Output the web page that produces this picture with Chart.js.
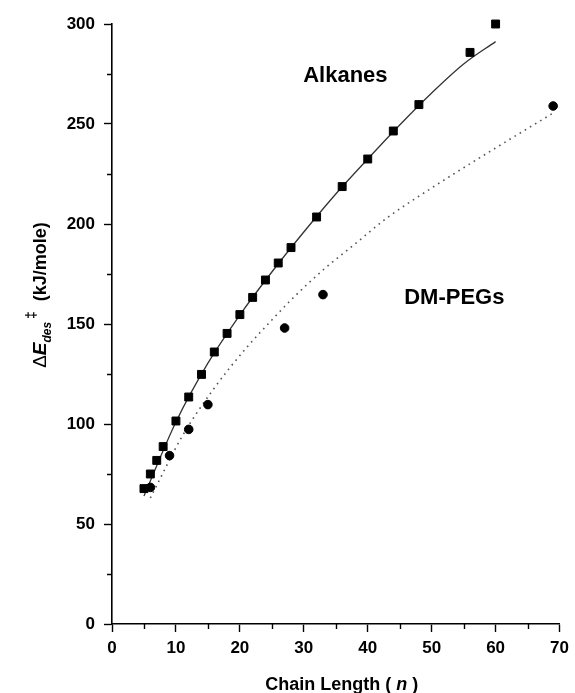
<!DOCTYPE html>
<html>
<head>
<meta charset="utf-8">
<script src="https://cdn.jsdelivr.net/npm/chart.js@4.4.0/dist/chart.umd.min.js"></script>
<style>
  html, body { margin: 0; padding: 0; background: #fff; }
  canvas { display: block; }
</style>
</head>
<body>
<canvas id="myChart" width="575" height="693"></canvas>
<script>
// values
var alkaneN = [5, 6, 7, 8, 10, 12, 14, 16, 18, 20, 22, 24, 26, 28, 32, 36, 40, 44, 48, 56, 60];
var alkaneE = [67.7, 75, 81.8, 88.7, 101.5, 113.5, 124.8, 136, 145.3, 154.7, 163.3, 172, 180.5, 188.2, 203.5, 218.7, 232.5, 246.5, 259.7, 285.8, 300];
var pegN = [6, 9, 12, 15, 27, 33, 69];
var pegE = [68.3, 84.2, 97.3, 109.7, 148, 164.7, 259];

// fit curves
var alkaneFitN = [5, 10, 15, 20, 25, 30, 35, 40, 45, 50, 55, 60];
var alkaneFitE = [64, 101, 130.4, 154.5, 176, 196, 215, 232.5, 249.5, 265.5, 280, 291.2];
var pegFitN = [6, 11, 16, 21, 25, 28, 33, 38, 43, 50, 60, 69];
var pegFitE = [63, 94, 118, 138, 152, 162, 177, 190, 203, 218, 238, 255.5];

// axis ticks
var xMajor = [0, 10, 20, 30, 40, 50, 60, 70];
var xMinor = [5, 15, 25, 35, 45, 55, 65];
var yMajor = [0, 50, 100, 150, 200, 250, 300];
var yMinor = [25, 75, 125, 175, 225, 275];

// in-plot labels (anchor in data units)
var seriesNames = ['Alkanes', 'DM-PEGs'];
var seriesLabelAt = [[29.9, 271], [45.7, 160]];

function pts(xs, ys) {
    return xs.map(function (v, i) { return { x: v, y: ys[i] }; });
}

var FONT = '"Liberation Sans", Arial, Helvetica, sans-serif';

var extras = {
    id: 'extras',
    afterDraw: function (chart) {
        var c = chart.ctx;
        var xs = chart.scales.x;
        var ys = chart.scales.y;
        c.save();

        // minor ticks
        c.strokeStyle = '#000';
        c.lineWidth = 1.4;
        c.beginPath();
        xMinor.forEach(function (v) {
            var px = Math.round(xs.getPixelForValue(v)) + 0.5;
            c.moveTo(px, ys.bottom);
            c.lineTo(px, ys.bottom + 5);
        });
        yMinor.forEach(function (v) {
            var py = Math.round(ys.getPixelForValue(v)) + 0.5;
            c.moveTo(xs.left, py);
            c.lineTo(xs.left - 5, py);
        });
        c.stroke();

        c.fillStyle = '#000';

        // series labels
        c.font = 'bold 22px ' + FONT;
        c.textAlign = 'left';
        c.textBaseline = 'alphabetic';
        seriesNames.forEach(function (name, i) {
            c.fillText(name, xs.getPixelForValue(seriesLabelAt[i][0]), ys.getPixelForValue(seriesLabelAt[i][1]));
        });

        // x title: Chain Length (n)
        var parts = [
            ['Chain Length (', 'bold 18px ' + FONT, 0],
            [' n ', 'italic bold 18px ' + FONT, 0],
            [')', 'bold 18px ' + FONT, 0]
        ];
        drawRun(c, parts, (xs.left + xs.right) / 2 + 6, 690);

        // y title: ΔE_des‡ (kJ/mole), rotated
        c.save();
        c.translate(46, 295);
        c.rotate(-Math.PI / 2);
        var yparts = [
            ['\u0394', '19px ' + FONT, 0],
            ['E', 'italic bold 19px ' + FONT, 0],
            ['des', 'italic bold 12px ' + FONT, 5],
            ['\u2009\u2021', 'bold 14px ' + FONT, -10],
            ['  (kJ/mole)', 'bold 18px ' + FONT, 0]
        ];
        drawRun(c, yparts, 0, 0);
        c.restore();

        c.restore();
    }
};

function drawRun(c, parts, cx, baseY) {
    var total = 0;
    parts.forEach(function (p) { c.font = p[1]; total += c.measureText(p[0]).width; });
    var x = cx - total / 2;
    c.textAlign = 'left';
    c.textBaseline = 'alphabetic';
    parts.forEach(function (p) {
        c.font = p[1];
        c.fillText(p[0], x, baseY + p[2]);
        x += c.measureText(p[0]).width;
    });
}

const ctx = document.getElementById('myChart');

new Chart(ctx, {
    type: 'scatter',
    data: {
        datasets: [{
            label: 'Alkanes',
            data: pts(alkaneN, alkaneE),
            pointStyle: 'rect',
            pointRadius: 5.6,
            backgroundColor: '#000',
            borderColor: '#000',
            borderWidth: 1,
            clip: false,
            order: 0
        }, {
            label: 'DM-PEGs',
            data: pts(pegN, pegE),
            pointStyle: 'circle',
            pointRadius: 4.3,
            backgroundColor: '#000',
            borderColor: '#000',
            borderWidth: 1,
            clip: false,
            order: 0
        }, {
            label: 'Alkanes fit',
            data: pts(alkaneFitN, alkaneFitE),
            showLine: true,
            pointRadius: 0,
            borderColor: '#333',
            borderWidth: 1.3,
            cubicInterpolationMode: 'monotone',
            order: 1
        }, {
            label: 'DM-PEGs fit',
            data: pts(pegFitN, pegFitE),
            showLine: true,
            pointRadius: 0,
            borderColor: '#555',
            borderWidth: 1.6,
            borderDash: [1.6, 4.4],
            cubicInterpolationMode: 'monotone',
            order: 1
        }]
    },
    options: {
        responsive: false,
        animation: false,
        devicePixelRatio: 1,
        layout: { padding: { left: 0, right: 12, top: 24, bottom: 0 } },
        plugins: {
            legend: { display: false },
            tooltip: { enabled: false }
        },
        scales: {
            x: {
                type: 'linear',
                min: 0,
                max: 70,
                afterFit: function (s) { s.height = 69; },
                afterBuildTicks: function (s) { s.ticks = xMajor.map(function (v) { return { value: v }; }); },
                border: { color: '#000', width: 1.6 },
                grid: { drawOnChartArea: false, tickLength: 8, tickWidth: 1.4, tickColor: '#000' },
                ticks: {
                    color: '#000',
                    padding: 6,
                    maxRotation: 0,
                    font: { family: FONT, size: 17, weight: 'bold' }
                }
            },
            y: {
                type: 'linear',
                min: 0,
                max: 300,
                afterFit: function (s) { s.width = 112; },
                afterBuildTicks: function (s) { s.ticks = yMajor.map(function (v) { return { value: v }; }); },
                border: { color: '#000', width: 1.6 },
                grid: { drawOnChartArea: false, tickLength: 8, tickWidth: 1.4, tickColor: '#000' },
                ticks: {
                    color: '#000',
                    padding: 9,
                    font: { family: FONT, size: 17, weight: 'bold' }
                }
            }
        }
    },
    plugins: [extras]
});
</script>
</body>
</html>
